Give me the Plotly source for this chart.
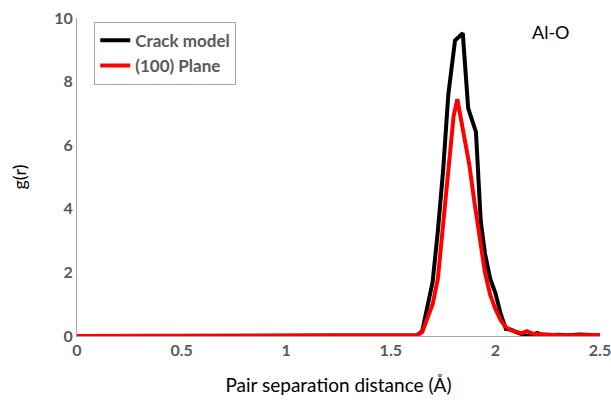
import plotly.graph_objects as go

# Crack model g(r)
r_crack = [0.0, 1.60, 1.625, 1.65, 1.675, 1.70, 1.725, 1.75, 1.775, 1.807, 1.844,
           1.87, 1.907, 1.93, 1.95, 1.975, 2.0, 2.025, 2.05, 2.075, 2.1, 2.125,
           2.15, 2.175, 2.2, 2.225, 2.25, 2.3, 2.35, 2.4, 2.45, 2.5]
g_crack = [0.0, 0.0, 0.02, 0.15, 0.9, 1.7, 3.3, 5.2, 7.6, 9.29, 9.52,
           7.16, 6.42, 3.6, 2.6, 1.8, 1.35, 0.7, 0.22, 0.2, 0.12, 0.05,
           0.0, 0.03, 0.1, 0.03, 0.02, 0.04, 0.02, 0.05, 0.03, 0.02]

# (100) Plane g(r)
r_plane = [0.0, 1.60, 1.625, 1.65, 1.675, 1.70, 1.725, 1.75, 1.775, 1.80, 1.818,
           1.85, 1.875, 1.90, 1.925, 1.95, 1.975, 2.0, 2.025, 2.05, 2.075, 2.1,
           2.125, 2.15, 2.175, 2.2, 2.25, 2.3, 2.4, 2.5]
g_plane = [0.0, 0.0, 0.02, 0.12, 0.55, 1.0, 1.8, 3.6, 5.3, 6.9, 7.45,
           6.3, 5.4, 4.2, 3.0, 2.0, 1.3, 0.85, 0.5, 0.28, 0.18, 0.12,
           0.08, 0.15, 0.08, 0.06, 0.03, 0.02, 0.02, 0.03]

x_ticks = [0, 0.5, 1, 1.5, 2, 2.5]
x_tick_labels = ["0", "0.5", "1", "1.5", "2", "2.5"]
y_ticks = [0, 2, 4, 6, 8, 10]

fig = go.Figure()
fig.add_trace(go.Scatter(x=r_crack, y=g_crack, mode="lines", name="Crack model",
                         line=dict(color="#000000", width=4)))
fig.add_trace(go.Scatter(x=r_plane, y=g_plane, mode="lines", name="(100) Plane",
                         line=dict(color="#FF0000", width=4)))

fig.add_annotation(x=0.907, y=0.955, xref="paper", yref="paper", text="Al-O",
                   showarrow=False, font=dict(family="Lato", size=18, color="#000000"),
                   xanchor="center", yanchor="middle")

fig.update_layout(
    width=611, height=408,
    margin=dict(l=77, r=11, t=18, b=72, autoexpand=False),
    paper_bgcolor="white", plot_bgcolor="white",
    font=dict(family="Lato", color="#595959"),
    showlegend=True,
    legend=dict(x=0.033, y=0.988, xanchor="left", yanchor="top",
                bordercolor="#A6A6A6", borderwidth=1, bgcolor="white",
                font=dict(family="Lato", size=17, color="#595959", weight="bold"),
                tracegroupgap=0, itemwidth=30),
    xaxis=dict(range=[0, 2.5], tickvals=x_ticks, ticktext=x_tick_labels,
               automargin=False, ticklabeloverflow="allow",
               showgrid=False, zeroline=False, showline=True, linecolor="#A6A6A6",
               linewidth=1, ticks="", ticklen=0,
               tickfont=dict(family="Lato", size=16, color="#595959", weight="bold"),
               title=dict(text="Pair separation distance (Å)", standoff=20,
                          font=dict(family="Lato", size=19, color="#000000"))),
    yaxis=dict(range=[0, 10], tickvals=y_ticks, automargin=False,
               ticklabeloverflow="allow",
               showgrid=False, zeroline=False, showline=True, linecolor="#A6A6A6",
               linewidth=1, ticks="", ticklen=0,
               tickfont=dict(family="Lato", size=16, color="#595959", weight="bold"),
               title=dict(text="g(r)", standoff=22,
                          font=dict(family="Lato", size=18, color="#000000"))),
)

fig.write_html("out.html")
